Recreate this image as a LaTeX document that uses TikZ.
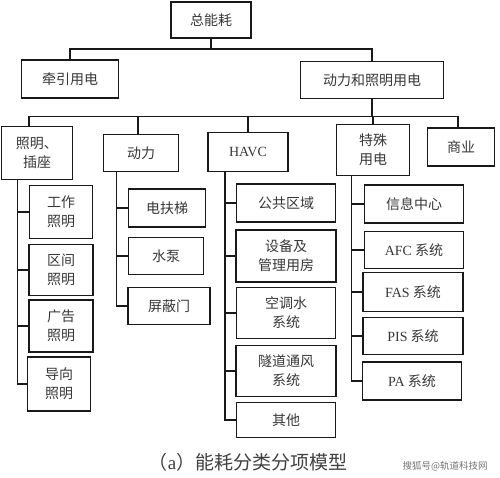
\documentclass[tikz,border=0pt]{standalone}
\usepackage{fontspec}
\setmainfont{Liberation Serif}
\newfontfamily\cjk{Noto Sans CJK SC}
\usepackage{tikz}
\usetikzlibrary{positioning, calc}
\definecolor{boxline}{RGB}{25,25,25}
\definecolor{boxtext}{RGB}{55,55,55}
\newcommand{\lat}[1]{{\rmfamily #1}}

\begin{document}
\begin{tikzpicture}[
    x=1pt, y=-1pt,
    box/.style={draw=boxline, line width=1.8pt, align=center, text=boxtext,
        inner sep=1pt, font=\cjk\fontsize{14}{19}\selectfont},
    link/.style={draw=boxline, line width=1.4pt},
    caption/.style={text=black!75, font=\cjk\fontsize{19}{19}\selectfont},
    watermark/.style={text=black!55, font=\cjk\fontsize{9.5}{10}\selectfont}
]
    \useasboundingbox (0,0) rectangle (500,477);

    % Top levels
    \node[box, minimum width=80pt, minimum height=36pt] (total) at (211,20) {总能耗};
    \node[box, minimum width=97pt, minimum height=38pt] (traction) at (70,79) {牵引用电};
    \node[box, minimum width=143pt, minimum height=37pt] (power) at (372,80) {动力和照明用电};

    % Second level
    \node[box, minimum width=71pt, minimum height=53pt] (light) at (37,153) {照明、\\插座};
    \node[box, minimum width=75pt, minimum height=37pt] (motive) at (141,153) {动力};
    \node[box, minimum width=80pt, minimum height=39pt] (havc) at (248,152) {\lat{HAVC}};
    \node[box, minimum width=73pt, minimum height=51pt] (special) at (373,150) {特殊\\用电};
    \node[box, minimum width=67pt, minimum height=38pt] (commerce) at (461,147) {商业};

    % Lighting items
    \node[box, minimum width=63pt, minimum height=53pt] (work) at (61,212) {工作\\照明};
    \node[box, minimum width=64pt, minimum height=51pt] (section) at (61,270) {区间\\照明};
    \node[box, minimum width=64pt, minimum height=52pt] (advert) at (61,326) {广告\\照明};
    \node[box, minimum width=63pt, minimum height=54pt] (guide) at (59,384) {导向\\照明};

    % Power items
    \node[box, minimum width=77pt, minimum height=38pt] (escalator) at (167,208) {电扶梯};
    \node[box, minimum width=75pt, minimum height=37pt] (pump) at (166,256) {水泵};
    \node[box, minimum width=82pt, minimum height=37pt] (door) at (169,306) {屏蔽门};

    % HAVC items
    \node[box, minimum width=99pt, minimum height=38pt] (public) at (286,203) {公共区域};
    \node[box, minimum width=100pt, minimum height=52pt] (room) at (286,256) {设备及\\管理用房};
    \node[box, minimum width=99pt, minimum height=51pt] (water) at (286,313) {空调水\\系统};
    \node[box, minimum width=100pt, minimum height=51pt] (tunnel) at (286,371) {隧道通风\\系统};
    \node[box, minimum width=99pt, minimum height=35pt] (other) at (286,420) {其他};

    % Special items
    \node[box, minimum width=99pt, minimum height=38pt] (info) at (414,204) {信息中心};
    \node[box, minimum width=99pt, minimum height=37pt] (afc) at (414,250) {\lat{AFC} 系统};
    \node[box, minimum width=100pt, minimum height=39pt] (fas) at (413,292) {\lat{FAS} 系统};
    \node[box, minimum width=100pt, minimum height=37pt] (pis) at (413,336) {\lat{PIS} 系统};
    \node[box, minimum width=99pt, minimum height=38pt] (pa) at (412,381) {\lat{PA} 系统};

    % Tree links
    \draw[link] (total.south) -- ++(0,10) coordinate (bus1);
    \draw[link] (bus1) -| (traction.north);
    \draw[link] (bus1) -| (power.north);
    \draw[link] (power.south) -- ++(0,17) coordinate (bus2);
    \draw[link] (bus2) -| ([xshift=-8pt]light.north);
    \draw[link] (bus2) -| ([xshift=-3pt]motive.north);
    \draw[link] (bus2) -| (havc.north);
    \draw[link] (bus2) -| (special.north);
    \draw[link] (bus2) -| ([xshift=-3pt]commerce.north);

    \foreach \c in {work, section, advert, guide}
        \draw[link] ([xshift=17pt]light.south west) |- (\c.west);
    \foreach \c in {escalator, pump, door}
        \draw[link] ([xshift=14pt]motive.south west) |- (\c.west);
    \foreach \c in {public, room, water, tunnel, other}
        \draw[link] ([xshift=18pt]havc.south west) |- (\c.west);
    \foreach \c in {info, afc, fas, pis, pa}
        \draw[link] ([xshift=16pt]special.south west) |- (\c.west);

    % Caption
    \node[caption] (title) at (248,462) {（\lat{a}）能耗分类分项模型};
    \node[watermark] (source) at (445,466) {搜狐号@轨道科技网};
\end{tikzpicture}
\end{document}
